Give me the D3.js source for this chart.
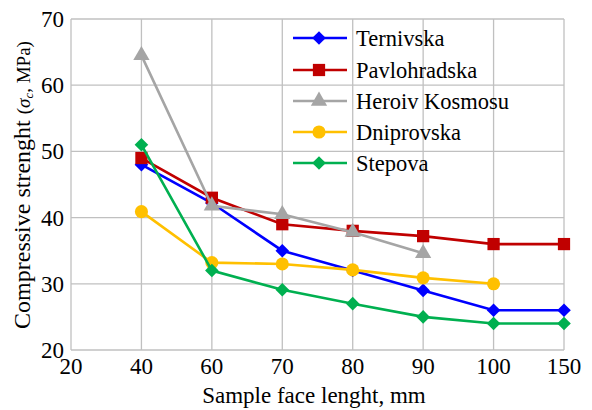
<!DOCTYPE html>
<html lang="en">
<head>
  <meta charset="UTF-8" />
  <title>Compressive strength vs sample face length</title>
  <script src="https://d3js.org/d3.v7.min.js"></script>
  <style>
    body { margin: 0; background: #fff; overflow: hidden; }
    svg { display: block; }
    text { font-family: "Liberation Serif", "DejaVu Serif", serif; fill: #000; }
  </style>
</head>
<body>
<svg id="chart" width="592" height="410"></svg>
<script>
// categories on the x axis (evenly spaced)
const sizes = ["20", "40", "60", "70", "80", "90", "100", "150"];
const yTicks = [20, 30, 40, 50, 60, 70];

// values start at the "40" category
const ternivska    = [48, 42.2, 35, 32, 29, 26, 26];
const pavlohradska = [49, 43, 39, 38, 37.2, 36, 36];
const heroiv       = [64.5, 41.8, 40.5, 37.8, 34.6];
const dniprovska   = [40.9, 33.2, 33, 32.1, 30.9, 30];
const stepova      = [51, 32, 29.1, 27, 25, 24, 24];

const seriesNames = ["Ternivska", "Pavlohradska", "Heroiv Kosmosu", "Dniprovska", "Stepova"];
const seriesValues = [ternivska, pavlohradska, heroiv, dniprovska, stepova];
const seriesColors = ["#0000ff", "#c00000", "#a5a5a5", "#ffc000", "#00b050"];
const seriesMarkers = ["diamond", "square", "triangle", "circle", "diamond"];

const svg = d3.select("#chart");
const plotL = 71, plotR = 564, plotT = 19, plotB = 350;
const serif = "'Liberation Serif', 'DejaVu Serif', serif";

const x = d3.scalePoint().domain(sizes).range([plotL, plotR]).padding(0);
const y = d3.scaleLinear().domain([20, 70]).range([plotB, plotT]);

const gridColor = "#c0c0c0";

// horizontal grid
svg.append("g").selectAll("line")
  .data(yTicks)
  .enter().append("line")
  .attr("x1", plotL).attr("x2", plotR)
  .attr("y1", d => y(d)).attr("y2", d => y(d))
  .attr("stroke", gridColor).attr("stroke-width", 1.3);

// vertical grid
svg.append("g").selectAll("line")
  .data(sizes)
  .enter().append("line")
  .attr("x1", d => x(d)).attr("x2", d => x(d))
  .attr("y1", plotT).attr("y2", plotB)
  .attr("stroke", gridColor).attr("stroke-width", 1.3);

// tick labels
svg.append("g").selectAll("text")
  .data(yTicks)
  .enter().append("text")
  .attr("x", 64).attr("y", d => y(d) + 8)
  .attr("text-anchor", "end")
  .attr("font-family", serif)
  .attr("font-size", 23)
  .text(d => d);

svg.append("g").selectAll("text")
  .data(sizes)
  .enter().append("text")
  .attr("x", d => x(d)).attr("y", 374)
  .attr("text-anchor", "middle")
  .attr("font-family", serif)
  .attr("font-size", 23)
  .text(d => d);

// axis titles
svg.append("text")
  .attr("x", 314).attr("y", 403)
  .attr("text-anchor", "middle")
  .attr("font-family", serif)
  .attr("font-size", 23)
  .text("Sample face lenght, mm");

const yTitle = svg.append("text")
  .attr("transform", "translate(30,185) rotate(-90)")
  .attr("text-anchor", "middle")
  .attr("font-family", serif)
  .attr("font-size", 24);
yTitle.append("tspan").text("Compressive  strenght ");
yTitle.append("tspan").attr("font-size", 19).text("(");
yTitle.append("tspan").attr("font-size", 19).attr("font-style", "italic").text("σ");
yTitle.append("tspan").attr("font-size", 13).attr("font-style", "italic").attr("dy", 3).text("c");
yTitle.append("tspan").attr("font-size", 19).attr("dy", -3).text(", MPa)");

function markerPath(type) {
  if (type === "diamond") {
    const r = 6.8;
    return `M0,${-r}L${r},0L0,${r}L${-r},0Z`;
  }
  const sym = {
    square: d3.symbolSquare,
    triangle: d3.symbolTriangle,
    circle: d3.symbolCircle
  }[type];
  const size = { square: 150, triangle: 115, circle: 135 }[type];
  return d3.symbol().type(sym).size(size)();
}

const line = d3.line()
  .x((d, i) => x(sizes[i + 1]))
  .y(d => y(d));

seriesValues.forEach((vals, s) => {
  const g = svg.append("g");
  g.append("path")
    .datum(vals)
    .attr("d", line)
    .attr("fill", "none")
    .attr("stroke", seriesColors[s])
    .attr("stroke-width", 2.6);
  g.selectAll("path.mk")
    .data(vals)
    .enter().append("path")
    .attr("class", "mk")
    .attr("d", markerPath(seriesMarkers[s]))
    .attr("transform", (d, i) => `translate(${x(sizes[i + 1])},${y(d)})`)
    .attr("fill", seriesColors[s]);
});

// legend
const legendY = [38, 70, 101, 132, 163];
const legend = svg.append("g");
seriesNames.forEach((name, s) => {
  const ly = legendY[s];
  legend.append("line")
    .attr("x1", 293).attr("x2", 347)
    .attr("y1", ly).attr("y2", ly)
    .attr("stroke", seriesColors[s]).attr("stroke-width", 2.6);
  legend.append("path")
    .attr("d", markerPath(seriesMarkers[s]))
    .attr("transform", `translate(319,${ly})`)
    .attr("fill", seriesColors[s]);
  legend.append("text")
    .attr("x", 356).attr("y", ly + 8)
    .attr("font-family", serif)
    .attr("font-size", 22.5)
    .text(name);
});
</script>
</body>
</html>
